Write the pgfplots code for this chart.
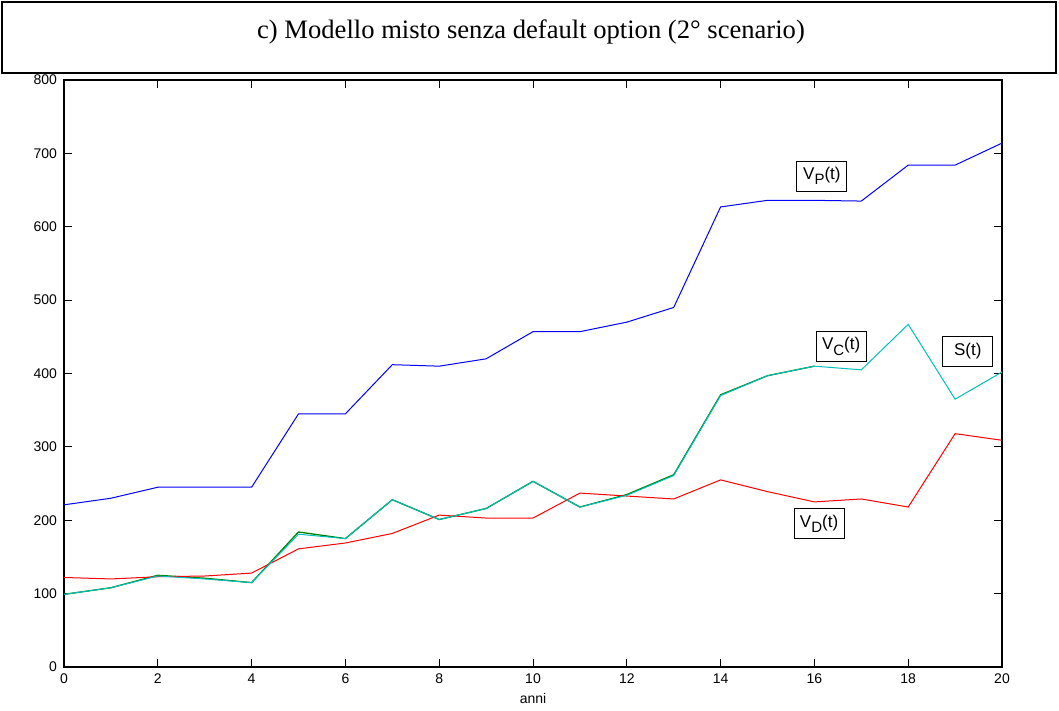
\documentclass[border=0pt]{standalone}
\usepackage{fontspec}
\setmainfont{Liberation Sans}
\newfontfamily\titlefont{Liberation Serif}
\usepackage{pgfplots}
\pgfplotsset{compat=1.18}

\definecolor{mblue}{rgb}{0,0,1}
\definecolor{mgreen}{rgb}{0,0.5,0}
\definecolor{mred}{rgb}{1,0,0}
\definecolor{mcyan}{rgb}{0,0.75,0.75}

\newcommand{\lab}[1]{V\raisebox{-0.6ex}{\fontsize{7.5}{8}\selectfont #1}(t)}

\begin{document}
\begin{tikzpicture}
\useasboundingbox (-32pt,-22pt) rectangle (497.5pt,333.5pt);
% title frame
\draw[line width=1pt] (-31pt,297pt) rectangle (496pt,332.5pt);
\node[font=\titlefont\fontsize{13.3}{16}\selectfont] at (233.5pt,317.5pt)
  {c) Modello misto senza default option (2° scenario)};
\begin{axis}[
  scale only axis,
  width=469pt, height=293.5pt,
  xmin=0, xmax=20, ymin=0, ymax=800,
  xtick={0,2,...,20}, ytick={0,100,...,800},
  tick align=inside, major tick length=4pt,
  xtick pos=both, ytick pos=both,
  xticklabel pos=lower, yticklabel pos=left,
  axis line style={line width=0.6pt},
  tick style={line width=0.5pt,black},
  /pgf/number format/assume math mode=true,
  tick label style={font=\fontsize{7}{8}\selectfont},
  xlabel={anni},
  xlabel style={font=\fontsize{7}{8}\selectfont, yshift=2pt},
  every axis plot/.append style={line width=0.5pt},
]
% V_P(t)
\addplot[mblue] coordinates {
 (0,221) (1,230) (2,245) (3,245) (4,245) (5,345) (6,345) (7,412) (8,410)
 (9,420) (10,457) (11,457) (12,470) (13,490) (14,627) (15,636) (16,636)
 (17,635) (18,684) (19,684) (20,714)};
% V_C(t)
\addplot[mgreen, line width=0.65pt] coordinates {
 (0,99) (1,108) (2,125) (3,121) (4,115) (5,184) (6,175) (7,228) (8,201)
 (9,216) (10,253) (11,218) (12,235) (13,262) (14,371) (15,397) (16,410)};
% V_D(t)
\addplot[mred] coordinates {
 (0,122) (1,120) (2,123) (3,124) (4,128) (5,161) (6,169) (7,182) (8,207)
 (9,203) (10,203) (11,237) (12,233) (13,229) (14,255) (15,239) (16,225)
 (17,229) (18,218) (19,318) (20,309)};
% S(t)
\addplot[mcyan] coordinates {
 (0,99) (1,108) (2,124) (3,120) (4,115) (5,181) (6,175) (7,228) (8,201)
 (9,216) (10,253) (11,218) (12,234) (13,261) (14,370) (15,397) (16,410)
 (17,405) (18,467) (19,365) (20,402)};

\tikzset{tag/.style={draw, line width=0.5pt, fill=white, inner sep=0pt,
  minimum width=25pt, minimum height=15pt, font=\fontsize{8.5}{10}\selectfont}}
\node[tag] at (axis cs:16.16,669) {\lab{P}};
\node[tag] at (axis cs:16.57,437) {\lab{C}};
\node[tag] at (axis cs:19.27,430) {S(t)};
\node[tag] at (axis cs:16.1,195) {\lab{D}};
\end{axis}
\end{tikzpicture}
\end{document}
